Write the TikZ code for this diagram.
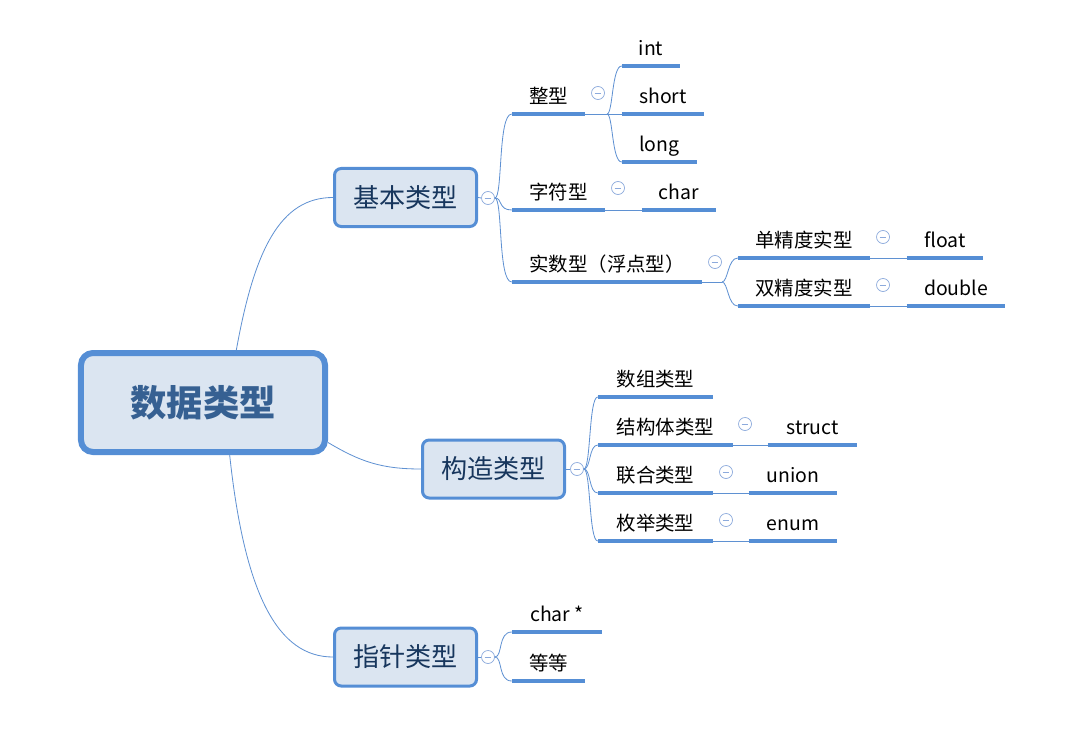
\documentclass[tikz,border=0pt]{standalone}
\usepackage{fontspec}
\setmainfont{Noto Sans CJK SC}
\definecolor{boxfill}{RGB}{219,229,241}
\definecolor{boxline}{RGB}{85,142,213}
\definecolor{barc}{RGB}{85,142,213}
\definecolor{linec}{RGB}{95,145,210}
\definecolor{foldc}{RGB}{140,170,220}
\definecolor{navy}{RGB}{23,54,93}
\definecolor{roottext}{RGB}{54,96,146}
\begin{document}
    \begin{tikzpicture}[x=0.03cm, y=-0.03cm,
        root/.style={rectangle, draw=boxline, fill=boxfill, line width=0.18cm, rounded corners=0.36cm, minimum width=7.32cm, minimum height=2.97cm, text=roottext, font=\fontsize{31}{36}\selectfont\bfseries},
        topic/.style={rectangle, draw=boxline, fill=boxfill, line width=0.09cm, rounded corners=0.2cm, minimum width=4.26cm, minimum height=1.74cm, text=navy, font=\fontsize{22.3}{26}\selectfont},
        leaf/.style={inner sep=0pt, anchor=south, minimum width=#1*0.03cm, text height=0.45cm, text depth=0.31cm, font=\fontsize{16.6}{20}\selectfont, append after command={(\tikzlastnode.south west) edge [bar] (\tikzlastnode.south east)}},
        bar/.style={draw=barc, line width=0.12cm},
        branch/.style={draw=linec, line width=0.7pt},
        fold/.style={circle, draw=foldc, fill=white, line width=0.6pt, inner sep=0pt, minimum size=0.39cm, path picture={\draw [foldc, line width=0.6pt] ([xshift=-0.1cm]path picture bounding box.center) -- ([xshift=0.1cm]path picture bounding box.center);}}]
        \useasboundingbox (0,0) rectangle (1077,733);
        \node (root) [root] at (203,402.5) {数据类型};
        \node (jb) [topic] at (405.5,197.5) {基本类型};
        \node (gz) [topic] at (493.5,469) {构造类型};
        \node (zz) [topic] at (405.5,657) {指针类型};
        \node (fjb) [fold] at (488,198) {};
        \node (fgz) [fold] at (577,469) {};
        \node (fzz) [fold] at (488,657) {};

        \node (zx) [leaf=73] at (548.5,114) {整型};
        \node (zf) [leaf=93] at (558.5,210) {字符型};
        \node (ss) [leaf=190] at (607,282) {实数型（浮点型）};
        \node (int) [leaf=58] at (651,66) {int};
        \node (short) [leaf=82] at (663,114) {short};
        \node (long) [leaf=75] at (659.5,162) {long};
        \node (char) [leaf=74] at (679,210) {char};
        \node (dj) [leaf=132] at (804,258) {单精度实型};
        \node (sj) [leaf=132] at (804,306) {双精度实型};
        \node (float) [leaf=76] at (945,258) {float};
        \node (double) [leaf=98] at (956,306) {double};
        \node (sz) [leaf=115] at (655.5,397) {数组类型};
        \node (jg) [leaf=135] at (665.5,445) {结构体类型};
        \node (struct) [leaf=89] at (812.5,445) {struct};
        \node (lh) [leaf=115] at (655.5,493) {联合类型};
        \node (union) [leaf=88] at (793,493) {union};
        \node (mj) [leaf=115] at (655.5,541) {枚举类型};
        \node (enum) [leaf=88] at (793,541) {enum};
        \node (cp) [leaf=90] at (557,632) {char *};
        \node (dd) [leaf=73] at (548.5,681) {等等};

        \node (fzx) [fold] at (598,93) {};
        \node (fzf) [fold] at (618,188) {};
        \node (fss) [fold] at (715,262) {};
        \node (fdj) [fold] at (883,237) {};
        \node (fsj) [fold] at (883,285) {};
        \node (fjg) [fold] at (745,424) {};
        \node (flh) [fold] at (726,472) {};
        \node (fmj) [fold] at (726,520) {};
        \coordinate (zxj) at (607,114);
        \coordinate (ssj) at (722,282);

        \draw [branch] ([xshift=1cm]root.north) .. controls +(18,-100) and +(-53,0) .. (jb.west);
        \draw [branch] ([yshift=-1.2cm]root.east) .. controls +(32,19) and +(-40,0) .. (gz.west);
        \draw [branch] ([xshift=0.8cm]root.south) .. controls +(15,140) and +(-55,0) .. (zz.west);
        \draw [branch] (jb.east) -- (fjb.west);
        \draw [branch] (fjb.east) .. controls +(8,0) and +(-14,0) .. (zx.south west);
        \draw [branch] (fjb.east) .. controls +(8,0) and +(-14,0) .. (zf.south west);
        \draw [branch] (fjb.east) .. controls +(8,0) and +(-14,0) .. (ss.south west);
        \draw [branch] (zx.south east) -- (zxj);
        \draw [branch] (zxj) .. controls +(6,0) and +(-10,0) .. (int.south west);
        \draw [branch] (zxj) -- (short.south west);
        \draw [branch] (zxj) .. controls +(6,0) and +(-10,0) .. (long.south west);
        \draw [branch] (zf.south east) -- (char.south west);
        \draw [branch] (ss.south east) -- (ssj);
        \draw [branch] (ssj) .. controls +(6,0) and +(-10,0) .. (dj.south west);
        \draw [branch] (ssj) .. controls +(6,0) and +(-10,0) .. (sj.south west);
        \draw [branch] (dj.south east) -- (float.south west);
        \draw [branch] (sj.south east) -- (double.south west);
        \draw [branch] (gz.east) -- (fgz.west);
        \draw [branch] (fgz.east) .. controls +(7,0) and +(-9,0) .. (sz.south west);
        \draw [branch] (fgz.east) .. controls +(7,0) and +(-9,0) .. (jg.south west);
        \draw [branch] (fgz.east) .. controls +(7,0) and +(-9,0) .. (lh.south west);
        \draw [branch] (fgz.east) .. controls +(7,0) and +(-9,0) .. (mj.south west);
        \draw [branch] (jg.south east) -- (struct.south west);
        \draw [branch] (lh.south east) -- (union.south west);
        \draw [branch] (mj.south east) -- (enum.south west);
        \draw [branch] (zz.east) -- (fzz.west);
        \draw [branch] (fzz.east) .. controls +(8,0) and +(-14,0) .. (cp.south west);
        \draw [branch] (fzz.east) .. controls +(8,0) and +(-14,0) .. (dd.south west);
    \end{tikzpicture}
\end{document}
